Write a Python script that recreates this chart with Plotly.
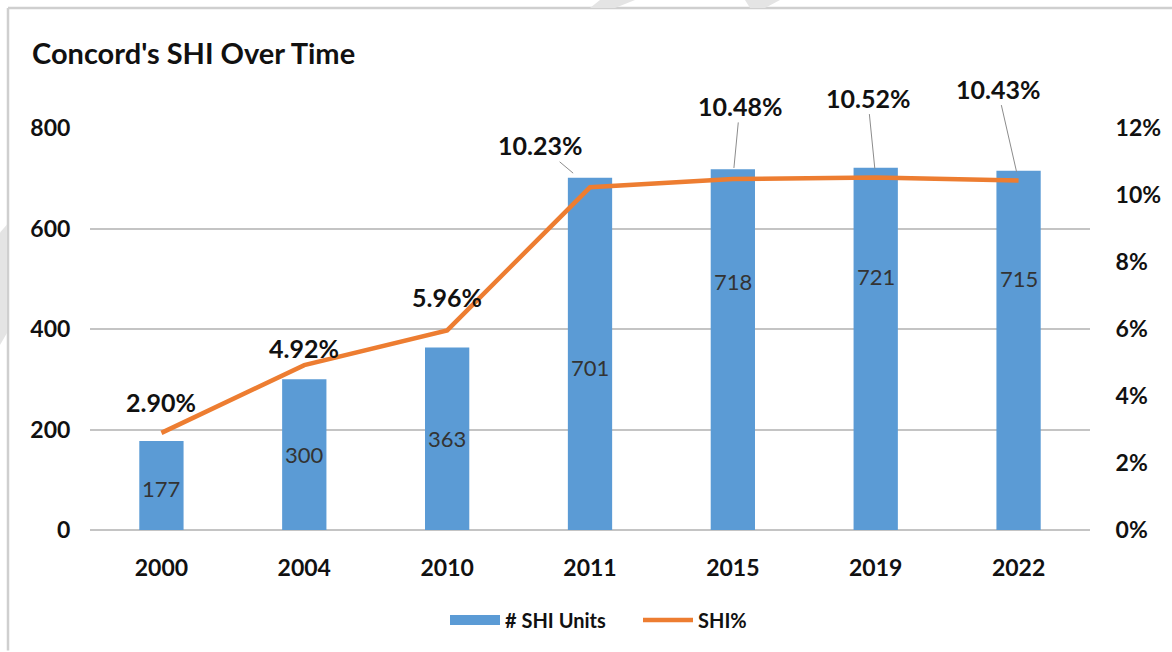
import plotly.graph_objects as go

# Chart data
years = ["2000", "2004", "2010", "2011", "2015", "2019", "2022"]
shi_units = [177, 300, 363, 701, 718, 721, 715]
shi_pct = [2.90, 4.92, 5.96, 10.23, 10.48, 10.52, 10.43]

# Left-axis ticks and right-axis ticks
units_ticks = [0, 200, 400, 600, 800]
pct_ticks = [0, 2, 4, 6, 8, 10, 12]

# Where each unit label sits inside its bar (fraction of bar height)
unit_label_frac = [0.47, 0.50, 0.50, 0.46, 0.69, 0.70, 0.70]

# Percent label placement: (x offset px, y offset px, arrow?, standoff)
pct_label_style = [
    (0, -31, False, 0),
    (0, -17, False, 0),
    (0, -33, False, 0),
    (-50, -42, True, 22),
    (7, -73, True, 11),
    (-8, -80, True, 9),
    (-21, -92, True, 9),
]

BLUE = "#5B9BD5"
ORANGE = "#ED7D31"
FONT = "Lato"
INK = "#111111"

fig = go.Figure()
fig.add_trace(go.Bar(
    x=years, y=shi_units, name="# SHI Units",
    marker=dict(color=BLUE, line=dict(width=0)),
    yaxis="y", showlegend=False,
))
# Wide swatch legend entry for the bars
fig.add_trace(go.Scatter(
    x=[None], y=[None], name="# SHI Units", mode="lines",
    line=dict(color=BLUE, width=12), yaxis="y",
))
fig.add_trace(go.Scatter(
    x=years, y=[p / 100 for p in shi_pct], name="SHI%",
    mode="lines", line=dict(color=ORANGE, width=4.5),
    yaxis="y2",
))

annotations = []
# Unit labels inside bars (category index positions)
for i, (v, f) in enumerate(zip(shi_units, unit_label_frac)):
    annotations.append(dict(
        x=i, y=v * f, xref="x", yref="y", text=str(v), showarrow=False,
        font=dict(family=FONT, size=22, color="#333333"),
    ))
# Percent labels above the line
for i, (p, (dx, dy, arrow, so)) in enumerate(zip(shi_pct, pct_label_style)):
    common = dict(
        x=i, y=p / 100, xref="x", yref="y2", text=f"{p:.2f}%",
        font=dict(family=FONT, size=25, color=INK, weight="bold"),
    )
    if arrow:
        annotations.append(dict(
            showarrow=True, arrowhead=0, arrowwidth=1, arrowcolor="#8C8C8C",
            ax=dx, ay=dy, standoff=so, **common,
        ))
    else:
        annotations.append(dict(showarrow=False, xshift=dx, yshift=-dy, **common))
# Title
annotations.append(dict(
    x=-0.06, y=1.189, xref="paper", yref="paper", xanchor="left", yanchor="middle",
    text="Concord's SHI Over Time", showarrow=False,
    font=dict(family=FONT, size=29, color=INK, weight="bold"),
))

# Frame lines (top and left) and faint background marks outside the frame
shapes = [
    dict(type="line", xref="paper", yref="paper", x0=-0.082, x1=1.09, y0=1.2985, y1=1.2985,
         line=dict(color="#CFCFCF", width=2.5), layer="below"),
    dict(type="line", xref="paper", yref="paper", x0=-0.082, x1=-0.082, y0=-0.3, y1=1.2985,
         line=dict(color="#CFCFCF", width=2.5), layer="below"),
    dict(type="path", xref="paper", yref="paper",
         path="M 0.51,1.3184 L 0.545,1.3184 L 0.525,1.2985 L 0.50,1.2985 Z",
         fillcolor="#E4E4E4", line=dict(width=0), layer="below"),
    dict(type="path", xref="paper", yref="paper",
         path="M 0.655,1.3184 L 0.69,1.3184 L 0.675,1.2985 L 0.66,1.2985 Z",
         fillcolor="#E4E4E4", line=dict(width=0), layer="below"),
    dict(type="path", xref="paper", yref="paper",
         path="M -0.09,0.74 L -0.083,0.76 L -0.083,0.49 L -0.09,0.46 Z",
         fillcolor="#E4E4E4", line=dict(width=0), layer="below"),
]

fig.update_layout(
    width=1172, height=652,
    margin=dict(l=90, r=82, t=128, b=122),
    paper_bgcolor="white", plot_bgcolor="white",
    bargap=0.69,
    showlegend=True,
    legend=dict(
        orientation="h", x=0.355, y=-0.224, xanchor="left", yanchor="middle",
        font=dict(family=FONT, size=20, color=INK, weight="bold"),
        itemwidth=50, entrywidth=128, entrywidthmode="pixels",
    ),
    xaxis=dict(
        type="category", range=[-0.5, len(years) - 0.5],
        showgrid=False, showline=False, zeroline=False,
        ticks="outside", ticklen=17, tickcolor="rgba(0,0,0,0)",
        tickfont=dict(family=FONT, size=23, color=INK, weight="bold"),
    ),
    yaxis=dict(
        range=[0, 800], tickvals=units_ticks, showgrid=True, gridcolor="#C4C4C4",
        gridwidth=1.5, zeroline=True, zerolinecolor="#C4C4C4", zerolinewidth=1.5,
        showline=False,
        ticks="outside", ticklen=14, tickcolor="rgba(0,0,0,0)",
        tickfont=dict(family=FONT, size=23, color=INK, weight="bold"),
    ),
    yaxis2=dict(
        range=[0, 0.12], tickvals=[t / 100 for t in pct_ticks],
        ticktext=[f"{t}%" for t in pct_ticks],
        overlaying="y", side="right", showgrid=False, zeroline=False, showline=False,
        ticks="outside", ticklen=20, tickcolor="rgba(0,0,0,0)",
        tickfont=dict(family=FONT, size=23, color=INK, weight="bold"),
    ),
    annotations=annotations,
    shapes=shapes,
)

fig.write_html("out.html")
